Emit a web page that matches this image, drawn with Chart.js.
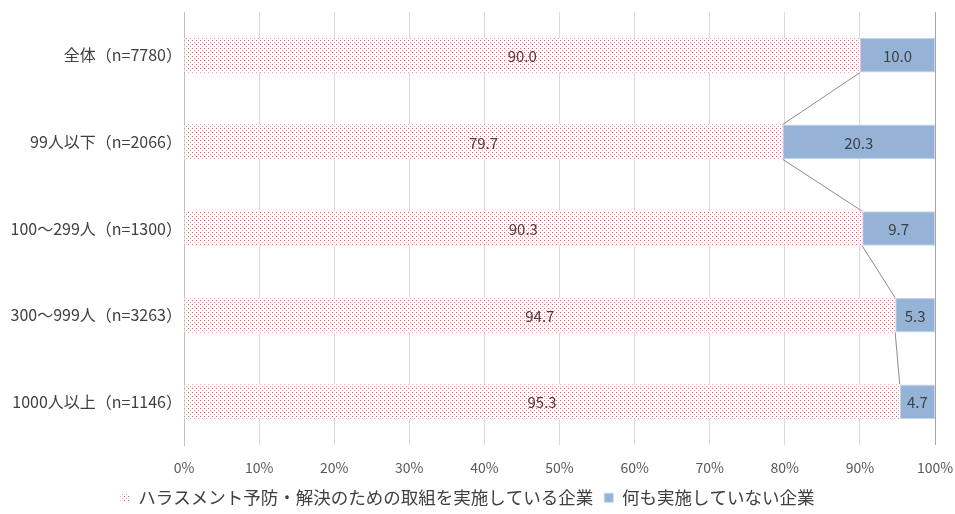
<!DOCTYPE html>
<html>
<head>
<meta charset="utf-8">
<script src="https://cdn.jsdelivr.net/npm/chart.js@4.4.0/dist/chart.umd.min.js"></script>
<style>
  html, body { margin: 0; padding: 0; background: #fff; }
  #wrap { width: 955px; height: 514px; }
</style>
</head>
<body>
<div id="wrap"><canvas id="chart"></canvas></div>
<script>
// カテゴリと値
const categories = ['全体（n=7780）', '99人以下（n=2066）', '100～299人（n=1300）', '300～999人（n=3263）', '1000人以上（n=1146）'];
const doingValues = [90.0, 79.7, 90.3, 94.7, 95.3];
const nothingValues = [10.0, 20.3, 9.7, 5.3, 4.7];
const seriesNames = ['ハラスメント予防・解決のための取組を実施している企業', '何も実施していない企業'];
const xTicks = [0, 10, 20, 30, 40, 50, 60, 70, 80, 90, 100];

const FONT = "'Noto Sans CJK JP', 'Noto Sans', sans-serif";

// ドット柄のパターン
function makeDots() {
    const c = document.createElement('canvas');
    c.width = 4; c.height = 4;
    const g = c.getContext('2d');
    g.fillStyle = '#fff';
    g.fillRect(0, 0, 4, 4);
    g.fillStyle = 'rgba(226, 80, 80, 0.95)';
    g.fillRect(0, 0, 1, 1);
    g.fillStyle = 'rgba(226, 80, 80, 0.6)';
    g.fillRect(2, 2, 1, 1);
    return c;
}
const ctx = document.getElementById('chart').getContext('2d');
const dots = ctx.createPattern(makeDots(), 'repeat');

// 凡例の高さを固定する
const legendHeight = {
    id: 'legendHeight',
    beforeLayout(chart) {
        const lg = chart.legend;
        if (lg && !lg._fixed) {
            const orig = lg.fit;
            lg.fit = function () { orig.call(this); this.height = 36; };
            lg._fixed = true;
        }
    }
};

// 値ラベルと区分線
const extras = {
    id: 'extras',
    afterDatasetsDraw(chart) {
        const c = chart.ctx;
        const x = chart.scales.x;
        const m0 = chart.getDatasetMeta(0);
        const m1 = chart.getDatasetMeta(1);
        c.save();
        // 区分線
        c.strokeStyle = '#8c8c8c';
        c.lineWidth = 1;
        for (let i = 0; i < doingValues.length - 1; i++) {
            const a = m0.data[i], b = m0.data[i + 1];
            c.beginPath();
            c.moveTo(x.getPixelForValue(doingValues[i]), a.y + a.height / 2);
            c.lineTo(x.getPixelForValue(doingValues[i + 1]), b.y - b.height / 2);
            c.stroke();
        }
        // 値ラベル
        c.fillStyle = '#404040';
        c.font = '15px ' + FONT;
        c.textAlign = 'center';
        c.textBaseline = 'middle';
        [m0, m1].forEach((meta, d) => {
            meta.data.forEach((el, i) => {
                const v = chart.data.datasets[d].data[i];
                const cx = (el.x + el.base) / 2;
                c.fillText(v.toFixed(1), cx, el.y + 1);
            });
        });
        c.restore();
    }
};

new Chart(ctx, {
    type: 'bar',
    data: {
        labels: categories,
        datasets: [{
            label: seriesNames[0],
            data: doingValues,
            backgroundColor: dots,
            borderWidth: 0,
            categoryPercentage: 0.8,
            barPercentage: 0.5
        }, {
            label: seriesNames[1],
            data: nothingValues,
            backgroundColor: '#95b3d7',
            borderColor: '#c5d5ea',
            borderWidth: 1,
            borderSkipped: false,
            categoryPercentage: 0.8,
            barPercentage: 0.5
        }]
    },
    options: {
        indexAxis: 'y',
        responsive: true,
        maintainAspectRatio: false,
        animation: false,
        layout: { padding: { top: 12, right: 20, left: 0, bottom: 0 } },
        scales: {
            x: {
                stacked: true,
                min: 0, max: 100,
                afterBuildTicks: (s) => { s.ticks = xTicks.map(v => ({ value: v })); },
                afterFit: (s) => { s.paddingLeft = 0; s.paddingRight = 0; s.height = 33; },
                grid: {
                    color: (c) => c.tick && c.tick.value === 100 ? '#a6a6a6' : '#d9d9d9',
                    drawTicks: false
                },
                border: { display: false },
                ticks: {
                    color: '#595959',
                    font: { family: FONT, size: 14, lineHeight: 1.6 },
                    padding: 11,
                    callback: (v) => v + '%'
                }
            },
            y: {
                stacked: true,
                grid: { display: false, drawTicks: false },
                border: { display: true, color: '#bfbfbf' },
                ticks: {
                    color: '#404040',
                    font: { family: FONT, size: 16 },
                    padding: 2
                },
                afterFit: (s) => { s.width = 184; s.paddingTop = 0; s.paddingBottom = 0; }
            }
        },
        plugins: {
            legend: {
                position: 'bottom',
                labels: {
                    color: '#404040',
                    font: { family: FONT, size: 17.5 },
                    boxWidth: 9,
                    boxHeight: 9,
                    padding: 11
                }
            },
            tooltip: { enabled: false }
        }
    },
    plugins: [legendHeight, extras]
});
</script>
</body>
</html>
